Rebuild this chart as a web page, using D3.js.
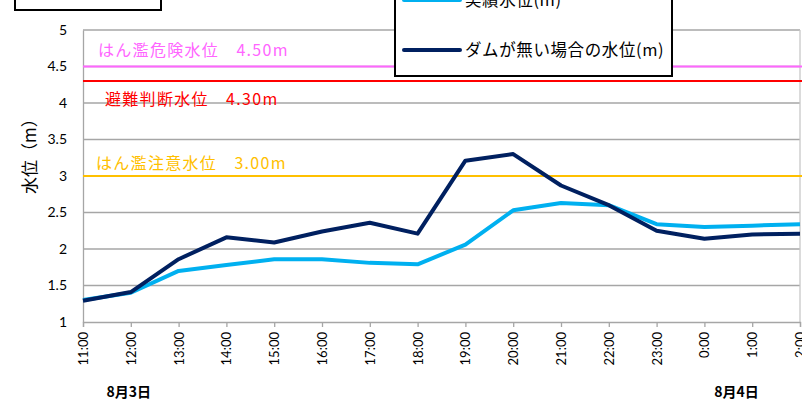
<!DOCTYPE html>
<html>
<head>
<meta charset="utf-8">
<script src="https://cdn.jsdelivr.net/npm/d3@7"></script>
<style>
  html, body { margin: 0; padding: 0; background: #fff; }
  svg { display: block; }
</style>
</head>
<body>
<svg id="chart" width="802" height="401"></svg>
<script>
// Hourly time labels (11:00 on 8/3 through 2:00 on 8/4)
const hours = ["11:00","12:00","13:00","14:00","15:00","16:00","17:00","18:00",
               "19:00","20:00","21:00","22:00","23:00","0:00","1:00","2:00"];

// Observed water level (m)
const actualLevel = [1.30, 1.40, 1.70, 1.78, 1.86, 1.86, 1.81, 1.79,
                     2.06, 2.53, 2.63, 2.60, 2.34, 2.30, 2.32, 2.34];

// Estimated water level without the dam (m)
const noDamLevel = [1.29, 1.41, 1.86, 2.16, 2.09, 2.24, 2.36, 2.21,
                    3.21, 3.30, 2.87, 2.60, 2.25, 2.14, 2.20, 2.21];

const yTicks = [1, 1.5, 2, 2.5, 3, 3.5, 4, 4.5, 5];

// Warning thresholds
const thresholdNames = ["はん濫危険水位", "避難判断水位", "はん濫注意水位"];
const thresholdValues = [4.50, 4.30, 3.00];
const thresholdColors = ["#ff66ff", "#ff0000", "#ffc000"];

const dateLabels = ["8月3日", "8月4日"];
const seriesNames = ["実績水位(m)", "ダムが無い場合の水位(m)"];

const svg = d3.select("#chart");
const plot = { left: 83, top: 30, right: 800, bottom: 322 };
const numFont = "Lato, 'Liberation Sans', sans-serif";
const jpFont = "'Noto Sans CJK JP', sans-serif";

const x = d3.scalePoint().domain(hours).range([plot.left, plot.right]);
const y = d3.scaleLinear().domain([1, 5]).range([plot.bottom, plot.top]);

// Horizontal gridlines
svg.append("g").selectAll("line").data(yTicks.filter(v => v > 1)).join("line")
  .attr("x1", plot.left).attr("x2", plot.right)
  .attr("y1", d => y(d)).attr("y2", d => y(d))
  .attr("stroke", "#a6a6a6").attr("stroke-width", 1.3);

// Right edge of the plot area
svg.append("line").attr("x1", plot.right).attr("x2", plot.right)
  .attr("y1", plot.top).attr("y2", plot.bottom)
  .attr("stroke", "#c8c8c8").attr("stroke-width", 1.3);

// Y axis
const yAxis = d3.axisLeft(y).tickValues(yTicks).tickSize(0).tickPadding(16)
  .tickFormat(d3.format("~g"));
const gy = svg.append("g").attr("transform", `translate(${plot.left},0)`).call(yAxis);
gy.select(".domain").attr("stroke", "#a6a6a6").attr("stroke-width", 1.3);
gy.selectAll("text").attr("font-family", numFont).attr("font-size", 14).attr("fill", "#000");

// X axis
const xAxis = d3.axisBottom(x).tickSize(5).tickPadding(6);
const gx = svg.append("g").attr("transform", `translate(0,${plot.bottom})`).call(xAxis);
gx.select(".domain").attr("stroke", "#a6a6a6").attr("stroke-width", 1.3);
gx.selectAll(".tick line").attr("stroke", "#a6a6a6").attr("stroke-width", 1.3);
gx.selectAll("text")
  .attr("font-family", numFont).attr("font-size", 13).attr("fill", "#000")
  .attr("text-anchor", "end").attr("dy", "0.35em")
  .attr("transform", "translate(0,10) rotate(-90)")
  .attr("x", 0).attr("y", 0);

// Threshold lines and labels
const labelPos = [{dx: 15, y: 56}, {dx: 22, y: 105}, {dx: 13, y: 169}];
thresholdValues.forEach((v, i) => {
  svg.append("line")
    .attr("x1", plot.left).attr("x2", 802)
    .attr("y1", y(v)).attr("y2", y(v))
    .attr("stroke", thresholdColors[i]).attr("stroke-width", 2);
  svg.append("text")
    .attr("x", plot.left + labelPos[i].dx).attr("y", labelPos[i].y)
    .attr("font-family", jpFont).attr("font-size", 16)
    .attr("letter-spacing", 1.3)
    .attr("fill", thresholdColors[i])
    .text(`${thresholdNames[i]}\u3000${v.toFixed(2)}m`);
});

// Series lines
const line = d3.line().x((d, i) => x(hours[i])).y(d => y(d));
svg.append("path").datum(actualLevel).attr("d", line)
  .attr("fill", "none").attr("stroke", "#00b0f0").attr("stroke-width", 4)
  .attr("stroke-linejoin", "round");
svg.append("path").datum(noDamLevel).attr("d", line)
  .attr("fill", "none").attr("stroke", "#002060").attr("stroke-width", 4)
  .attr("stroke-linejoin", "round");

// Y axis title
svg.append("text")
  .attr("transform", `translate(36,152) rotate(-90)`)
  .attr("text-anchor", "middle")
  .attr("font-family", jpFont).attr("font-size", 17).attr("fill", "#000")
  .text("水位（m）");

// Date labels under the time axis
svg.append("text").attr("x", x("12:00") - 2).attr("y", 397)
  .attr("text-anchor", "middle").attr("font-family", jpFont)
  .attr("font-size", 14).attr("font-weight", "bold").attr("fill", "#000")
  .text(dateLabels[0]);
svg.append("text").attr("x", x("0:00") + 32).attr("y", 397)
  .attr("text-anchor", "middle").attr("font-family", jpFont)
  .attr("font-size", 14).attr("font-weight", "bold").attr("fill", "#000")
  .text(dateLabels[1]);

// Legend
const legend = svg.append("g");
legend.append("rect").attr("x", 395).attr("y", -20).attr("width", 277).attr("height", 96)
  .attr("fill", "#fff").attr("stroke", "#000").attr("stroke-width", 2);
const legendColors = ["#00b0f0", "#002060"];
const legendY = [0, 50];
seriesNames.forEach((name, i) => {
  legend.append("line").attr("x1", 404).attr("x2", 460)
    .attr("y1", legendY[i]).attr("y2", legendY[i])
    .attr("stroke", legendColors[i]).attr("stroke-width", 4).attr("stroke-linecap", "round");
  legend.append("text").attr("x", 465).attr("y", legendY[i]).attr("dy", "0.35em")
    .attr("font-family", jpFont).attr("font-size", 16.5).attr("letter-spacing", 0.6)
    .attr("fill", "#000")
    .text(name);
});

// Title box above the y axis
svg.append("rect").attr("x", 15).attr("y", -20).attr("width", 146).attr("height", 30)
  .attr("fill", "#fff").attr("stroke", "#000").attr("stroke-width", 2);
</script>
</body>
</html>
